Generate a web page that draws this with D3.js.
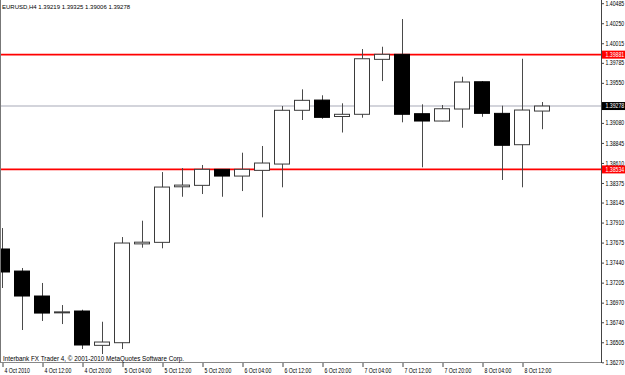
<!DOCTYPE html>
<html>
<head>
<meta charset="utf-8">
<script src="https://cdn.jsdelivr.net/npm/d3@7/dist/d3.min.js"></script>
<style>
  body { margin: 0; background: #fff; }
  svg text { font-family: "Liberation Sans", Arial, sans-serif; font-size: 6.5px; fill: #000; }
</style>
</head>
<body>
<div id="chart"></div>
<script>
// EURUSD H4 bars, 4 Oct 04:00 .. 8 Oct 16:00
const bars = ["4 Oct 04:00","4 Oct 08:00","4 Oct 12:00","4 Oct 16:00","4 Oct 20:00","5 Oct 00:00",
  "5 Oct 04:00","5 Oct 08:00","5 Oct 12:00","5 Oct 16:00","5 Oct 20:00","6 Oct 00:00",
  "6 Oct 04:00","6 Oct 08:00","6 Oct 12:00","6 Oct 16:00","6 Oct 20:00","7 Oct 00:00",
  "7 Oct 04:00","7 Oct 08:00","7 Oct 12:00","7 Oct 16:00","7 Oct 20:00","8 Oct 00:00",
  "8 Oct 04:00","8 Oct 08:00","8 Oct 12:00","8 Oct 16:00"]
const open  = [1.37600,1.37341,1.37048,1.36852,1.36872,1.36469,1.36500,1.37660,1.37678,1.38330,1.38347,1.38535,1.38456,1.38523,
               1.38597,1.39228,1.39348,1.39155,1.39181,1.39826,1.39885,1.39188,1.39102,1.39243,1.39563,1.39192,1.38824,1.39219]
const high  = [1.37846,1.37377,1.37201,1.36942,1.36887,1.36746,1.37740,1.37932,1.38503,1.38550,1.38586,1.38537,1.38730,1.38809,
               1.39278,1.39474,1.39404,1.39310,1.39947,1.39974,1.40299,1.39298,1.39290,1.39622,1.39571,1.39282,1.39833,1.39325]
const low   = [1.37142,1.36649,1.36755,1.36719,1.36426,1.36367,1.36426,1.37615,1.37608,1.38213,1.38245,1.38213,1.38280,1.37972,
               1.38324,1.39114,1.39129,1.38967,1.39141,1.39571,1.39087,1.38559,1.39100,1.39023,1.39152,1.38410,1.38324,1.39006]
const close = [1.37330,1.37048,1.36848,1.36862,1.36473,1.36508,1.37670,1.37680,1.38327,1.38350,1.38535,1.38456,1.38535,1.38609,
               1.39228,1.39345,1.39145,1.39181,1.39833,1.39885,1.39181,1.39102,1.39246,1.39560,1.39192,1.38817,1.39231,1.39278]

const xLabels = ["4 Oct 2010","4 Oct 12:00","4 Oct 20:00","5 Oct 04:00","5 Oct 12:00","5 Oct 20:00","6 Oct 04:00",
                 "6 Oct 12:00","6 Oct 20:00","7 Oct 04:00","7 Oct 12:00","7 Oct 20:00","8 Oct 04:00","8 Oct 12:00"]
const priceTicks = [1.40485,1.40250,1.40015,1.39785,1.39550,1.39315,1.39080,1.38845,1.38610,1.38375,
                    1.38145,1.37910,1.37675,1.37440,1.37205,1.36970,1.36740,1.36505,1.36270]
const levels = [1.39881, 1.38534]   // red horizontal lines
const bid = 1.39278
const title = "EURUSD,H4  1.39219 1.39325 1.39006 1.39278"
const footer = "Interbank FX Trader 4, \u00a9 2001-2010 MetaQuotes Software Corp."

width = 625
height = 375
plotRight = 601
plotBottom = 362
sx = 0.8   // axis labels are drawn narrow

const data = bars.map((b, i) => ({i: i, t: b, o: open[i], h: high[i], l: low[i], c: close[i]}))

x = d3.scaleLinear().domain([0, 27]).range([2, 542])
y = d3.scaleLinear().domain([1.36270, 1.40485]).range([362.3, 3.2])

var svg = d3.select("#chart").append("svg")
    .attr("width", width)
    .attr("height", height)

svg.append("defs").append("clipPath").attr("id", "plot")
  .append("rect").attr("x", 0).attr("y", 0).attr("width", plotRight).attr("height", plotBottom)

var plot = svg.append("g").attr("clip-path", "url(#plot)")

// bid line (grey)
plot.append("line")
    .attr("x1", 0).attr("x2", plotRight)
    .attr("y1", y(bid)).attr("y2", y(bid))
    .attr("stroke", "#c4c6cf").attr("stroke-width", 1.5)

// red levels
plot.selectAll(".level").data(levels).enter().append("line")
    .attr("class", "level")
    .attr("x1", 0).attr("x2", plotRight)
    .attr("y1", d => y(d)).attr("y2", d => y(d))
    .attr("stroke", "#ff0000").attr("stroke-width", 1.6)

// wicks
plot.selectAll(".wick").data(data).enter().append("line")
    .attr("class", "wick")
    .attr("x1", d => x(d.i) + 0.5).attr("x2", d => x(d.i) + 0.5)
    .attr("y1", d => y(d.h)).attr("y2", d => y(d.l))
    .attr("stroke", "#4a4a4a").attr("stroke-width", 1)

// bodies
bodyW = 15
plot.selectAll(".body").data(data).enter().append("rect")
    .attr("class", "body")
    .attr("x", d => x(d.i) - bodyW / 2)
    .attr("y", d => y(Math.max(d.o, d.c)))
    .attr("width", bodyW)
    .attr("height", d => Math.max(1, y(Math.min(d.o, d.c)) - y(Math.max(d.o, d.c))))
    .attr("fill", d => d.c < d.o ? "#000" : "#fff")
    .attr("stroke", d => d.c < d.o ? "#000" : "#3a3a3a")
    .attr("stroke-width", 1)

// frame lines
svg.append("line").attr("x1", 0.5).attr("x2", 0.5).attr("y1", 0).attr("y2", plotBottom)
    .attr("stroke", "#777")
svg.append("line").attr("x1", 0).attr("x2", plotRight).attr("y1", plotBottom + 0.5).attr("y2", plotBottom + 0.5)
    .attr("stroke", "#888")
svg.append("line").attr("x1", plotRight + 0.5).attr("x2", plotRight + 0.5).attr("y1", 0).attr("y2", plotBottom + 1)
    .attr("stroke", "#444")

// x axis
var xa = svg.append("g")
    .attr("transform", "translate(0," + (plotBottom + 1) + ")")
    .call(d3.axisBottom(x)
        .tickValues(d3.range(0, 28, 2))
        .tickFormat(d => xLabels[d / 2])
        .tickSize(4))
xa.select(".domain").remove()
xa.selectAll(".tick line").attr("stroke", "#444").attr("transform", "translate(0.5,0)")
xa.selectAll(".tick text")
    .attr("text-anchor", "start")
    .attr("transform", "scale(" + sx + ",1)")
    .attr("x", 2 / sx).attr("y", 5).attr("dy", "0.71em")

// y axis
var ya = svg.append("g")
    .attr("transform", "translate(" + (plotRight + 1) + ",0)")
    .call(d3.axisRight(y)
        .tickValues(priceTicks)
        .tickFormat(d3.format(".5f"))
        .tickSize(2))
ya.select(".domain").remove()
ya.selectAll(".tick line").attr("stroke", "#444")
ya.selectAll(".tick text")
    .attr("transform", "scale(" + sx + ",1)")
    .attr("x", 3.5 / sx)
// the bid box covers the label right under it
ya.selectAll(".tick").filter(d => Math.abs(y(d) - y(bid)) < 6).select("text").remove()

// price boxes on the axis
var boxes = [{v: levels[0], fill: "#ff0000"}, {v: levels[1], fill: "#ff0000"}, {v: bid, fill: "#000"}]
var bx = svg.selectAll(".pbox").data(boxes).enter().append("g")
    .attr("class", "pbox")
    .attr("transform", d => "translate(" + (plotRight + 1) + "," + y(d.v) + ")")
bx.append("rect")
    .attr("x", 0).attr("y", -4).attr("width", 24).attr("height", 8)
    .attr("fill", d => d.fill)
bx.append("text")
    .attr("transform", "scale(" + sx + ",1)")
    .attr("x", 3.5 / sx).attr("dy", "0.32em")
    .style("fill", "#fff")
    .text(d => d3.format(".5f")(d.v))

// title and footer
svg.append("text").attr("x", 2).attr("y", 9).style("font-size", "6px").text(title)
svg.append("text").attr("x", 3).attr("y", 361).style("font-size", "6.3px").text(footer)
</script>
</body>
</html>
